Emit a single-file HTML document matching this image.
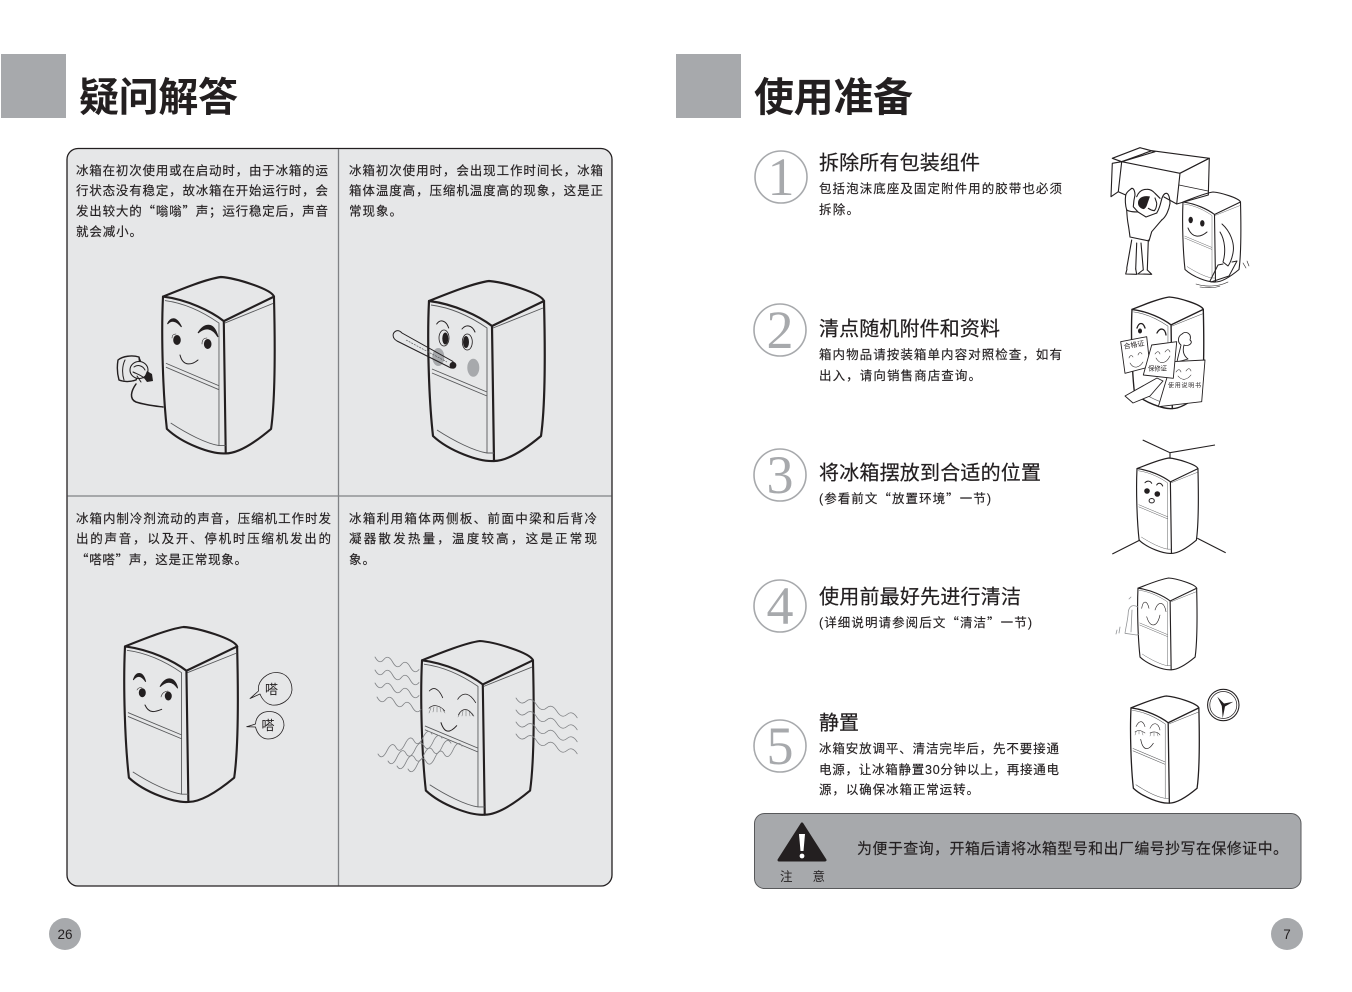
<!DOCTYPE html>
<html lang="zh-CN">
<head>
<meta charset="utf-8">
<title>疑问解答 / 使用准备</title>
<style>
html,body{margin:0;padding:0;background:#fff;}
svg{display:block;}
text{font-family:"Liberation Sans","Noto Sans CJK SC",sans-serif;fill:#231f20;}
.q{font-family:"Noto Sans CJK SC",sans-serif;}
.t{font-size:12.5px;stroke:#231f20;stroke-width:.15;}
.h{font-size:20px;stroke:#231f20;stroke-width:.2;}
.big{font-size:40px;font-weight:700;}
.n{font-family:"Liberation Serif",serif;font-size:54px;fill:#a7a9ac;text-anchor:middle;}
.k{fill:none;stroke:#231f20;stroke-width:2.2;stroke-linecap:round;stroke-linejoin:round;}
.m{fill:none;stroke:#231f20;stroke-width:1;stroke-linecap:round;stroke-linejoin:round;}
.s{fill:none;stroke:#231f20;stroke-width:.55;stroke-linecap:round;stroke-linejoin:round;}
.l{fill:none;stroke:#58595b;stroke-width:.45;stroke-linecap:round;}
.w{fill:none;stroke:#808285;stroke-width:.8;stroke-linecap:round;}
.c{fill:none;stroke:#a7a9ac;stroke-width:1.6;}
</style>
</head>
<body>
<svg width="1352" height="992" viewBox="0 0 1352 992" xmlns="http://www.w3.org/2000/svg">
<defs>
<g id="f">
  <path class="k" d="M0,20C20,12 45,2 60,0C75,1 112,12 115,20C116,60 117,120 112,155C100,165 80,180 65,180C50,181 20,170 4,155C0,120 -2,60 0,20Z"/>
  <path class="k" d="M0,20C25,23 50,35 63,45L115,20M63,45L65,180"/>
  <path d="M2,24C25,27 45,38 58,47L58,172L65,172M64,47L114,27M3,88L58,111M3,92L58,115M8,149C25,160 45,170 58,172" fill="none" stroke="#58595b" stroke-width=".9"/>
</g>
</defs>

<!-- Left page -->
<rect x="1" y="54" width="65" height="64" fill="#a7a9ac"/>
<text class="big" x="79" y="111" textLength="159">疑问解答</text>

<rect x="67" y="148.500" width="545" height="737.500" rx="11" fill="#e6e7e8" stroke="#231f20" stroke-width="1.300"/>
<path d="M338.500,149V885.500M67.500,496H611.500" stroke="#808285" stroke-width="1.300" fill="none"/>

<text class="t" x="76" y="175" textLength="252">冰箱在初次使用或在启动时，由于冰箱的运</text>
<text class="t" x="76" y="195" textLength="252">行状态没有稳定，故冰箱在开始运行时，会</text>
<text class="t" x="76" y="215.500" textLength="252">发出较大的<tspan class="q">“</tspan>嗡嗡<tspan class="q">”</tspan>声；运行稳定后，声音</text>
<text class="t" x="76" y="236" textLength="66">就会减小。</text>

<text class="t" x="349" y="175" textLength="254">冰箱初次使用时，会出现工作时间长，冰箱</text>
<text class="t" x="349" y="195" textLength="254">箱体温度高，压缩机温度高的现象，这是正</text>
<text class="t" x="349" y="215.500" textLength="53">常现象。</text>

<text class="t" x="76" y="523" textLength="255">冰箱内制冷剂流动的声音，压缩机工作时发</text>
<text class="t" x="76" y="543" textLength="255">出的声音，以及开、停机时压缩机发出的</text>
<text class="t" x="76" y="564" textLength="171"><tspan class="q">“</tspan>嗒嗒<tspan class="q">”</tspan>声，这是正常现象。</text>

<text class="t" x="349" y="523" textLength="248">冰箱利用箱体两侧板、前面中梁和后背冷</text>
<text class="t" x="349" y="543" textLength="248">凝器散发热量，温度较高，这是正常现</text>
<text class="t" x="349" y="564" textLength="26">象。</text>

<!-- Fridge 1 -->
<use href="#f" transform="translate(163,277) scale(.965,.98)"/>
<path d="M167.500,324C170,318 176,315 181.500,327C176,320 171,320 167.500,324ZM198,333C204,323 214,321 218,337C212,327 205,327 198,333Z" fill="#231f20" stroke="#231f20" stroke-width="1"/>
<ellipse cx="177" cy="340" rx="3.800" ry="5" fill="#231f20"/>
<ellipse cx="207.700" cy="344" rx="3.800" ry="5" fill="#231f20"/>
<path class="s" d="M172,338C172,335 174,334 176,334M202,344C202,340 204,338 207,338"/>
<path class="m" d="M180,355C183,367 192,365 198,360"/>
<path class="k" style="stroke-width:1.400" d="M118,360C123,356 132,355 139,357C140,364 140,372 136,380C130,382 124,382 119,380C117,373 117,366 118,360Z"/>
<path class="m" d="M139,357L141,362M125,360C122,366 122,374 124,380"/>
<ellipse cx="139" cy="370" rx="9" ry="8.500" fill="#e6e7e8" stroke="#231f20" stroke-width="1.100"/>
<path class="m" d="M134,367C138,364 143,366 145,370M133,372C137,374 141,375 144,378M137,376L141,382"/>
<path d="M147,371L152,374L153,381L147,382L144,378Z" fill="#231f20"/>
<path class="k" style="stroke-width:1.500" d="M136,384C131,391 129,399 136,402C145,405 155,406 163,407"/>

<!-- Fridge 2 -->
<use href="#f" transform="translate(429,281)"/>
<ellipse cx="438.300" cy="357" rx="6" ry="9" fill="#a7a9ac"/>
<ellipse cx="473.300" cy="367.700" rx="6" ry="9" fill="#a7a9ac"/>
<path class="m" d="M436.700,324C440,319 446,320 448.700,328M462,329C466,324 472,325 475,332"/>
<ellipse cx="444" cy="338" rx="5" ry="8" fill="#e6e7e8" stroke="#231f20" stroke-width=".8"/>
<ellipse cx="445.300" cy="338.500" rx="3" ry="6" fill="#231f20"/>
<ellipse cx="467.300" cy="342" rx="5" ry="8" fill="#e6e7e8" stroke="#231f20" stroke-width=".8"/>
<ellipse cx="466" cy="342" rx="3" ry="6" fill="#231f20"/>
<path d="M396,331C398,330 400,331 402,333L453,361.500L451,368L397,341C392,338 392,333 396,331Z" fill="none" stroke="#231f20" stroke-width="1"/>
<path d="M406,340L447,362" fill="none" stroke="#58595b" stroke-width=".7" stroke-dasharray="2 1"/>
<circle cx="453" cy="365.300" r="3.400" fill="#231f20"/>

<!-- Fridge 3 -->
<use href="#f" transform="translate(125,627) scale(.975,.972)"/>
<path d="M133.300,680C136,671 143,671 145.700,681.700C141,675 137,675 133.300,680ZM160,686.700C165,676 175,676 177.700,688.300C172,680 166,681 160,686.700Z" fill="#231f20" stroke="#231f20" stroke-width=".9"/>
<ellipse cx="142.300" cy="692.700" rx="3.500" ry="4.500" fill="#231f20"/>
<ellipse cx="168.300" cy="696" rx="3.500" ry="4.500" fill="#231f20"/>
<path class="s" d="M137,690C138,688 140,687 142,688M161,697C162,693 165,691 168,691"/>
<path class="m" d="M145,705C149,714 155,712 161.700,709.300"/>
<path d="M258.500,691C257,680 268,672 277,672.500C287,673 292,681 292,690C291,700 281,706 272,705C266,704 262,699 260,694L250,698.500Z" fill="#e6e7e8" stroke="#231f20" stroke-width=".8" stroke-linejoin="round"/>
<path d="M255.500,724C256,716 262,711 270,711.500C279,712 284,718 284,725.500C283,733 277,739 268,739C261,739 257,733 255.500,727L246.700,726.700Z" fill="#e6e7e8" stroke="#231f20" stroke-width=".8" stroke-linejoin="round"/>
<text x="265" y="694" font-size="13" textLength="14">嗒</text>
<text x="261.500" y="730" font-size="13" textLength="14">嗒</text>

<!-- Fridge 4 -->
<use href="#f" transform="translate(422,641) scale(.965,.965)"/>
<path class="m" style="stroke-width:.8" d="M429.300,691C434,686 439,689 442.700,697.700M457.700,699.300C463,691 470,693 475.700,702.700"/>
<path class="m" style="stroke-width:.7" d="M429,708.300C433,704 440,705 444.700,711M458.300,715C462,708 468,707 473.300,716"/>
<path class="l" d="M431,708L429,713M434,707L433,712M437,707L437,712M440,708L441,712M443,710L445,713M460,713L458,717M463,711L462,716M466,710L466,716M469,711L470,716M472,713L474,716"/>
<path class="m" d="M441,722.700C445,735 451,732 456.700,725.700"/>
<g>
  <path class="w" d="M375,657q4.400,8 8.800,2.500t8.800,2.500t8.800,2.500t8.800,2.500t8.800,2.500"/>
  <path class="w" d="M375,670q4.400,8 8.800,2.500t8.800,2.500t8.800,2.500t8.800,2.500t8.800,2.500"/>
  <path class="w" d="M375,683q4.400,8 8.800,2.500t8.800,2.500t8.800,2.500t8.800,2.500t8.800,2.500"/>
  <path class="w" d="M377,697q4.400,8 8.800,2.500t8.800,2.500t8.800,2.500t8.800,2.500t8.800,2.500"/>
  <path class="w" d="M516,698q5,8 10.200,3.300t10.200,3.300t10.200,3.300t10.200,3.300t10.200,3.300t10.200,3.300"/>
  <path class="w" d="M516,710q5,8 10.200,3.300t10.200,3.300t10.200,3.300t10.200,3.300t10.200,3.300t10.200,3.300"/>
  <path class="w" d="M516,722q5,8 10.200,3.300t10.200,3.300t10.200,3.300t10.200,3.300t10.200,3.300t10.200,3.300"/>
  <path class="w" d="M516,734q5,8 10.200,3.300t10.200,3.300t10.200,3.300t10.200,3.300t10.200,3.300t10.200,3.300"/>
  <path class="w" d="M378,754q4,7 9,-3.300t9,-3.300t9,-3.300t9,-3.300t9,-3.300t9,-3.300"/>
  <path class="w" d="M388,761q4,7 9,-3.800t9,-3.800t9,-3.800t9,-3.800t9,-3.800t9,-3.800"/>
  <path class="w" d="M397,766q4,7 9,-3.800t9,-3.800t9,-3.800t9,-3.800t9,-3.800t9,-3.800"/>
  <path class="w" d="M408,769q4,7 9,-3.800t9,-3.800t9,-3.800t9,-3.800t9,-3.800t9,-3.800"/>
</g>

<rect x="49" y="918" width="32" height="32" rx="16" fill="#a7a9ac"/>
<text x="65" y="939" font-size="13.500" text-anchor="middle">26</text>

<!-- Right page -->
<rect x="676" y="54" width="65" height="64" fill="#a7a9ac"/>
<text class="big" x="754" y="111" textLength="159">使用准备</text>

<circle class="c" cx="781" cy="177" r="26"/>
<text class="n" x="781" y="195">1</text>
<circle class="c" cx="780" cy="330" r="26"/>
<text class="n" x="780" y="348">2</text>
<circle class="c" cx="780" cy="475" r="26"/>
<text class="n" x="780" y="493">3</text>
<circle class="c" cx="780" cy="606" r="26"/>
<text class="n" x="780" y="624">4</text>
<circle class="c" cx="780" cy="746" r="26"/>
<text class="n" x="780" y="764">5</text>

<text class="h" x="819" y="169.500" textLength="161">拆除所有包装组件</text>
<text class="t" x="819" y="193" textLength="243">包括泡沫底座及固定附件用的胶带也必须</text>
<text class="t" x="819" y="214" textLength="40">拆除。</text>

<text class="h" x="819" y="335.500" textLength="181">清点随机附件和资料</text>
<text class="t" x="819" y="359" textLength="243">箱内物品请按装箱单内容对照检查，如有</text>
<text class="t" x="819" y="380" textLength="162">出入，请向销售商店查询。</text>

<text class="h" x="819" y="479.500" textLength="222">将冰箱摆放到合适的位置</text>
<text class="t" x="819" y="503" textLength="172">(参看前文<tspan class="q">“</tspan>放置环境<tspan class="q">”</tspan>一节)</text>

<text class="h" x="819" y="603.500" textLength="202">使用前最好先进行清洁</text>
<text class="t" x="819" y="627" textLength="213">(详细说明请参阅后文<tspan class="q">“</tspan>清洁<tspan class="q">”</tspan>一节)</text>

<text class="h" x="819" y="729.500" textLength="40">静置</text>
<text class="t" x="819" y="753" textLength="240">冰箱安放调平、清洁完毕后，先不要接通</text>
<text class="t" x="819" y="774" textLength="240">电源，让冰箱静置30分钟以上，再接通电</text>
<text class="t" x="819" y="794" textLength="160">源，以确保冰箱正常运转。</text>

<!-- Box + man -->
<g fill="none" stroke="#231f20" stroke-width="1.100" stroke-linejoin="round" stroke-linecap="round">
  <path d="M1112.300,158.300L1140,147.700L1155,151.700L1121.700,161.700Z"/>
  <path d="M1121.700,161.700L1151.700,150.700L1209.300,158.300L1180,173.300Z"/>
  <path d="M1180,173.300L1209.300,158.300L1208.300,195L1176.700,204"/>
  <path d="M1180,173.300L1176.700,204L1164,197"/>
  <path d="M1121.700,161.700L1118.300,191.700L1125.700,195M1112.300,163.300L1121.700,161.700M1112.300,163.300L1111,196.700L1118.300,191.700"/>
  <path d="M1179,185L1208,191" stroke-width=".8"/>
  <!-- arms -->
  <path d="M1125.700,195C1127,191 1130,190 1131.700,188.300C1134,188 1135,192 1135,195C1134,199 1133.500,203 1133.300,206.700L1138,212"/>
  <path d="M1125.700,195C1125,200 1125.500,206 1126.700,210"/>
  <path d="M1161,201.700C1162,197 1164,193 1166.700,193.300C1169,194 1170,199 1170,203.300C1169,210 1166,217 1161.700,220M1161,201.700C1160,206 1158.500,210 1156.700,213"/>
  <!-- body -->
  <path d="M1126.700,210C1130,212 1134,212 1138,212L1146,217L1156.700,213M1126.700,210C1127,216 1127.500,221 1128.300,225C1129,229 1129.500,233 1130,237L1149,241L1151.700,231.700L1161.700,220"/>
  <path d="M1131.700,240L1126.700,268.300M1136.700,243L1135.700,269M1141,243L1143.300,270M1148.300,240L1147.300,270"/>
  <path d="M1127,269L1125.700,274L1136.700,274.300L1135.700,269M1143,270L1137.800,274L1151.700,274.300L1147.300,270"/>
  <!-- head -->
  <path d="M1136.700,196.700C1139,191 1143,189.300 1146.700,189.300C1150,189 1153,191 1155,193.300L1160,198.300"/>
  <path d="M1155,198C1156,201 1157,203 1156.700,204C1156.500,207 1155.500,209.500 1154.300,210.700C1152,210.500 1150,209.500 1148.300,208.300"/>
</g>
<path d="M1138,203C1138,198 1143,195 1150,196.500C1149,199 1148,202 1147,205C1146,208 1144,209.500 1143,209C1140,208 1138,206 1138,203Z" fill="#231f20"/>

<!-- Fridge small 1 -->
<use href="#f" transform="translate(1183,192) scale(.5,.5)"/>
<g fill="none" stroke="#231f20" stroke-width="1" stroke-linecap="round" stroke-linejoin="round">
  <path d="M1222,224C1230,231 1235,243 1233,253C1232,258 1231,262 1228,266L1223,262C1226,252 1225,240 1220,232"/>
  <path d="M1210,281L1218,265L1223,264M1232,262L1237,261L1229,276L1211,282"/>
  <path stroke-width=".6" d="M1196,284C1205,287 1218,287 1228,282M1200,287C1208,288 1215,288 1220,286M1243,263L1246,268M1247,261L1249,266"/>
  <path stroke-width="1" d="M1188,228C1192,238 1200,238 1207,232"/>
</g>
<ellipse cx="1190.700" cy="220" rx="2.200" ry="3.200" fill="#231f20"/>
<ellipse cx="1202.300" cy="223.300" rx="2.200" ry="3.200" fill="#231f20"/>

<!-- Fridge small 2 -->
<use href="#f" transform="translate(1132,297) scale(.62,.62)"/>
<g fill="#fff" stroke="#231f20" stroke-width=".9" stroke-linejoin="round" stroke-linecap="round">
  <path d="M1182,334C1186,330 1192,334 1190,340C1194,343 1188,347 1184,345C1182,352 1184,356 1188,359L1177,362C1178,356 1180,350 1181,345C1177,342 1178,336 1182,334Z"/>
  <path d="M1125,396L1157,378L1163,381L1150,396L1133,403Z"/>
  <path d="M1171.700,361.700L1205,360L1201.700,401.700L1158.300,406.700Z"/>
  <path d="M1120.700,341.700L1146.700,336.700L1150,366.700L1125,373.300Z"/>
  <path d="M1151.700,345L1176.700,341.700L1173.300,378.300L1143.300,375Z"/>
</g>
<path class="k" style="stroke-width:1.300" d="M1137,328C1139,322 1143,322 1145,328M1157,333C1160,327 1165,328 1166,335"/>
<ellipse cx="1140" cy="331" rx="2" ry="2.500" fill="#231f20"/>
<g>
  <path class="s" d="M1129,358C1130,355 1132,355 1133,357M1138,355C1139,352 1141,352 1142,354M1130,363C1134,370 1140,367 1143,362"/>
  <path class="s" d="M1155,354C1157,351 1159,351 1160,354M1165,352C1167,349 1169,349 1170,352M1156,358C1160,365 1166,364 1170,356"/>
  <path class="s" d="M1176,372C1178,369 1180,369 1181,372M1186,371C1188,368 1190,368 1191,371M1178,376C1182,381 1187,380 1191,375"/>
</g>
<text x="1124" y="349" font-size="7" transform="rotate(-10 1124 349)" textLength="21">合格证</text>
<text x="1148" y="370.500" font-size="6.500" textLength="19">保修证</text>
<text x="1168" y="387.500" font-size="6" textLength="33">使用说明书</text>

<!-- Fridge small 3 -->
<path d="M1142.700,440L1170,452.700L1215,445M1170,452.700V458M1140,540L1112.300,554M1197.300,538.300L1225.700,552.700" fill="none" stroke="#231f20" stroke-width="1.100"/>
<use href="#f" transform="translate(1137,458) scale(.53,.53)"/>
<path class="m" d="M1145,482.700C1147,480.500 1150,480.500 1151.700,483.300M1156.700,485C1158,482.500 1161,482.500 1162.700,486"/>
<circle cx="1147" cy="491" r="2.800" fill="#231f20"/>
<circle cx="1157.300" cy="494" r="2.800" fill="#231f20"/>
<ellipse cx="1151.700" cy="500.700" rx="2.600" ry="2.200" fill="#fff" stroke="#231f20" stroke-width="1"/>

<!-- Fridge small 4 -->
<use href="#f" transform="translate(1138,578) scale(.51,.51)"/>
<path class="s" style="stroke-width:.6" d="M1141.700,608.300C1143,600 1147,600 1149,608.300M1155,610C1158,601 1164,601 1166,611.700M1146.700,616.700C1150,628 1157,628 1160,615"/>
<path fill="none" stroke="#939598" stroke-width=".8" stroke-linejoin="round" stroke-linecap="round" d="M1138,607C1133,604 1129,606 1128.300,612C1128,619 1126,626 1125,633.300L1136.700,635L1139,634M1132,610L1131,632M1117,630L1116,634M1120,627L1119,633M1129,599L1131,597"/>

<!-- Fridge small 5 -->
<use href="#f" transform="translate(1131,696) scale(.59,.595)"/>
<path class="s" d="M1136,726.700C1139,720 1143,720 1145,726.700M1150,728.300C1153,722 1158,722 1160,730M1135,732C1139,729 1142,731 1145,733M1150,733C1154,731 1158,732 1160,735"/>
<path class="l" d="M1136,732L1135,735M1139,731L1139,734M1142,732L1143,735M1151,733L1150,736M1154,733L1154,736M1157,733L1158,736"/>
<path class="m" style="stroke-width:.7" d="M1140.700,739.300C1143,752 1149,750 1153.300,743.300"/>
<circle cx="1223.300" cy="705" r="15.700" fill="#fff" stroke="#231f20" stroke-width="1.100"/>
<circle cx="1223.300" cy="705" r="13.500" fill="none" stroke="#231f20" stroke-width=".7"/>
<path d="M1217.300,696.700L1224,703.500L1233.300,701.700L1225,706.500L1222.700,718.300L1221.800,706Z" fill="#231f20"/>

<!-- Notice -->
<rect x="754.500" y="813.500" width="546.500" height="75" rx="10" fill="#a7a9ac" stroke="#58595b" stroke-width="1"/>
<path d="M802,824L825,860H779Z" fill="#231f20" stroke="#231f20" stroke-width="3" stroke-linejoin="round"/>
<path d="M799,834H805L803.500,851H800.500Z" fill="#fff"/>
<circle cx="802" cy="856" r="2.400" fill="#fff"/>
<text x="780" y="881" font-size="12.500">注</text>
<text x="812.500" y="881" font-size="12.500">意</text>
<text x="857" y="853.500" font-size="15" stroke="#231f20" stroke-width=".15" textLength="431">为便于查询，开箱后请将冰箱型号和出厂编号抄写在保修证中。</text>

<rect x="1271" y="918" width="32" height="32" rx="16" fill="#a7a9ac"/>
<text x="1287" y="939" font-size="13.500" text-anchor="middle">7</text>
</svg>
</body>
</html>
